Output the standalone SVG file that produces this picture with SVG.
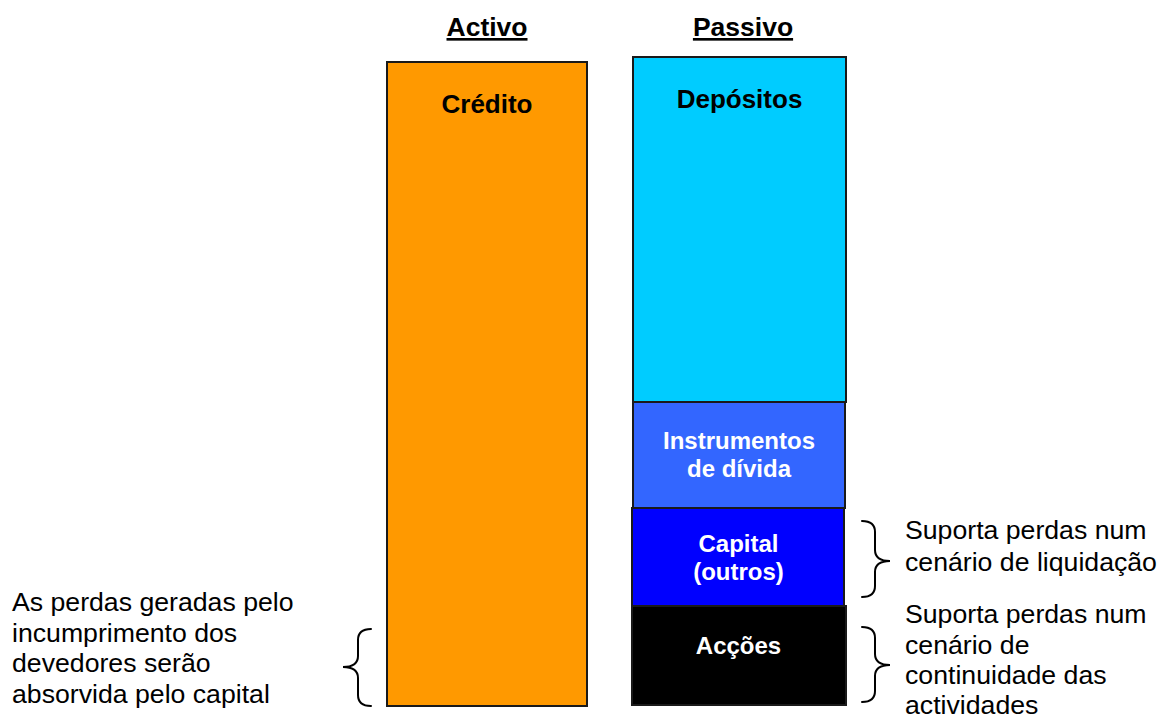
<svg xmlns="http://www.w3.org/2000/svg" width="1160" height="717" viewBox="0 0 1160 717">
  <style>
    .hdr { font-family: "Liberation Sans", Arial, sans-serif; font-size: 26.5px; font-weight: bold; text-anchor: middle; fill: #000; text-decoration: underline; }
    .lbl { font-family: "Liberation Sans", Arial, sans-serif; font-weight: bold; text-anchor: middle; }
    .dark { fill: #000; font-size: 26px; }
    .light { fill: #fff; font-size: 24px; }
    .note { font-family: "Liberation Sans", Arial, sans-serif; font-size: 26.67px; fill: #000; }
    .box { stroke: #1a1a1a; stroke-width: 2; }
    .brace { fill: none; stroke: #000; stroke-width: 2; stroke-linecap: round; }
  </style>
  <rect width="1160" height="717" fill="#fff"/>

  <!-- column headings -->
  <text class="hdr" x="487" y="36">Activo</text>
  <text class="hdr" x="743" y="36">Passivo</text>

  <!-- assets column -->
  <g id="credito">
    <rect class="box" x="387" y="62" width="200" height="644" fill="#FF9900"/>
    <text class="lbl dark" x="487" y="113">Crédito</text>
  </g>

  <!-- liabilities column -->
  <g id="depositos">
    <rect class="box" x="633" y="57" width="213" height="345" fill="#00CCFF"/>
    <text class="lbl dark" x="739.5" y="108">Depósitos</text>
  </g>
  <g id="instrumentos">
    <rect class="box" x="633" y="402" width="212" height="106" fill="#3366FF"/>
    <text class="lbl light" x="739" y="449">Instrumentos</text>
    <text class="lbl light" x="739" y="477">de dívida</text>
  </g>
  <g id="capital">
    <rect class="box" x="632" y="508" width="212" height="98" fill="#0000FF"/>
    <text class="lbl light" x="738.5" y="552">Capital</text>
    <text class="lbl light" x="738.5" y="580">(outros)</text>
  </g>
  <g id="accoes">
    <rect class="box" x="632" y="606" width="214" height="99" fill="#000000"/>
    <text class="lbl light" x="738.5" y="654">Acções</text>
  </g>

  <!-- braces -->
  <g id="connectors">
    <path class="brace" d="M371,629 Q358,629 358,640 L358,656 Q358,667 343,667 Q358,667 358,678 L358,695 Q358,706 371,706"/>
    <path class="brace" d="M862,521 Q875,521 875,532 L875,550 Q875,561 890,561 Q875,561 875,572 L875,586 Q875,597 862,597"/>
    <path class="brace" d="M862,627 Q875,627 875,638 L875,654 Q875,665 890,665 Q875,665 875,676 L875,691 Q875,702 862,702"/>
  </g>

  <!-- annotations -->
  <g id="nota-credito">
    <text class="note" x="12" y="611">As perdas geradas pelo</text>
    <text class="note" x="12" y="641.7">incumprimento dos</text>
    <text class="note" x="12" y="672.3">devedores serão</text>
    <text class="note" x="12" y="703">absorvida pelo capital</text>
  </g>
  <g id="nota-capital">
    <text class="note" x="905" y="539">Suporta perdas num</text>
    <text class="note" x="905" y="570.5">cenário de liquidação</text>
  </g>
  <g id="nota-accoes">
    <text class="note" x="905" y="622.5">Suporta perdas num</text>
    <text class="note" x="905" y="653.5">cenário de</text>
    <text class="note" x="905" y="684">continuidade das</text>
    <text class="note" x="905" y="713.5">actividades</text>
  </g>
</svg>
